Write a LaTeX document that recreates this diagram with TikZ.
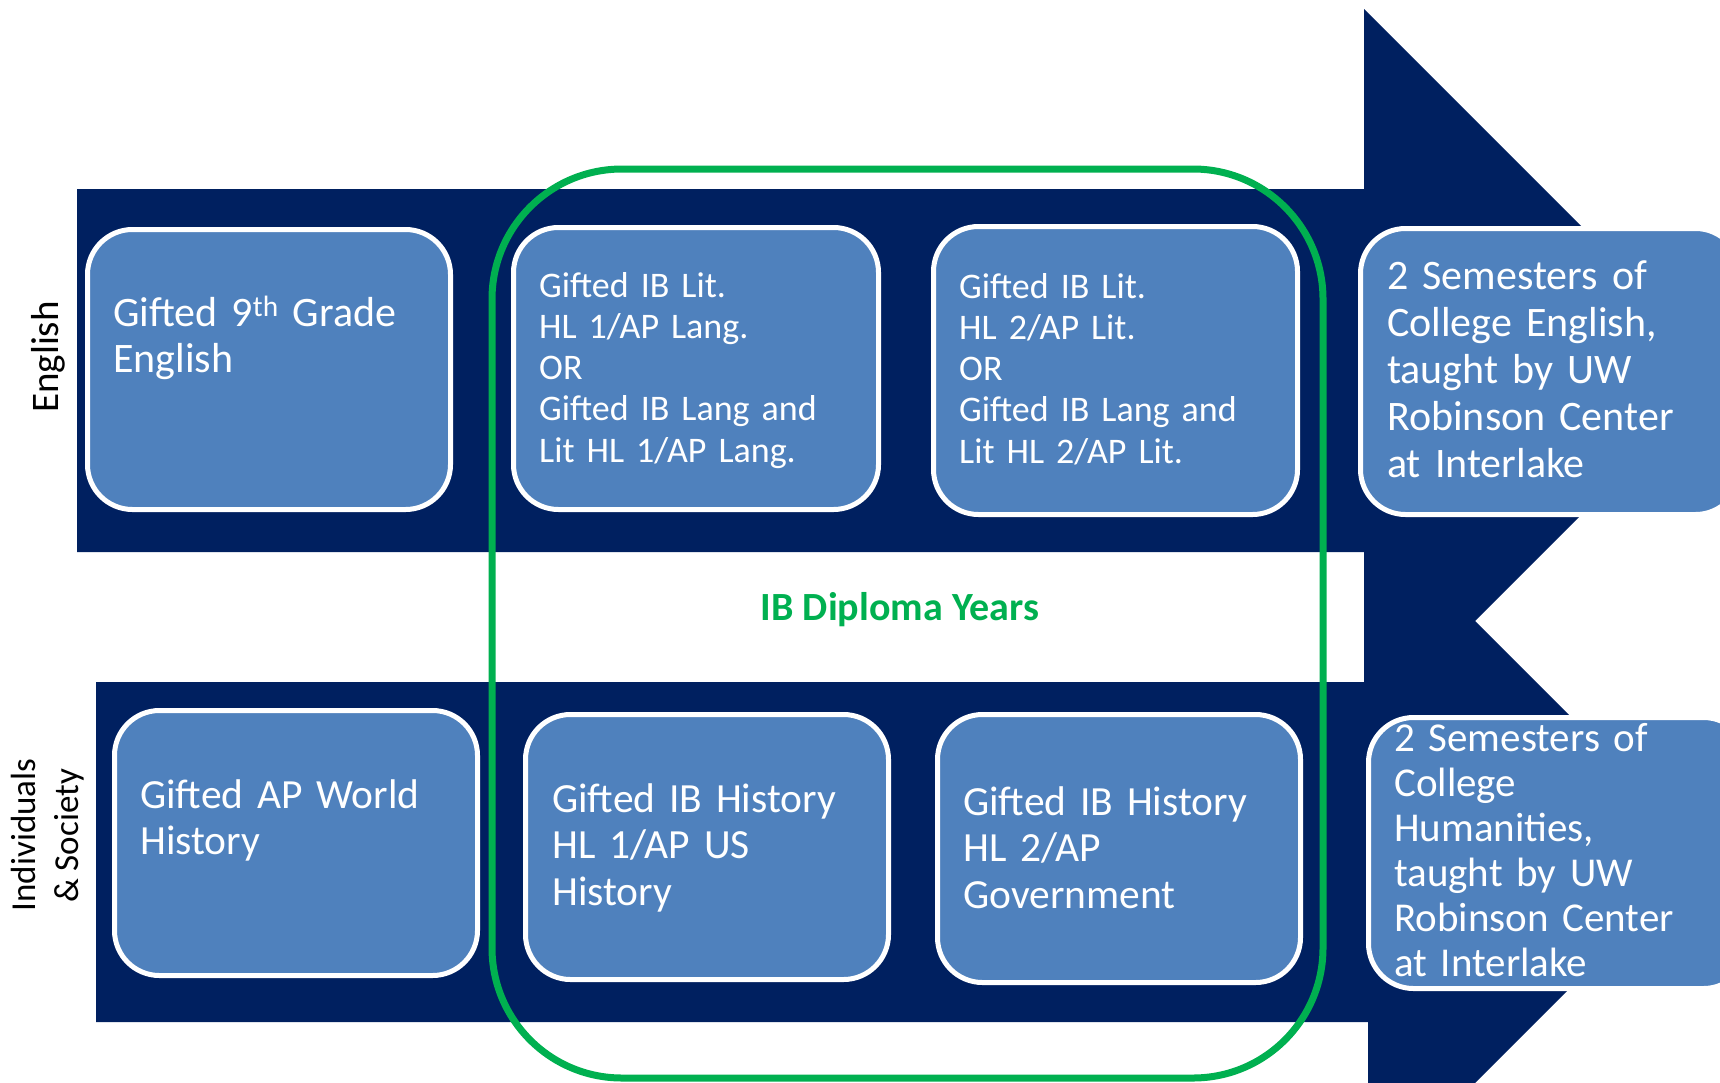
\documentclass[tikz,border=0pt]{standalone}
\usepackage{fontspec}
\setmainfont{Carlito}
\definecolor{navy}{HTML}{002060}
\definecolor{boxblue}{HTML}{4F81BD}
\definecolor{ibgreen}{HTML}{00B050}
\begin{document}
\begin{tikzpicture}[x=1pt,y=-1pt,
  box/.style={draw=white, line width=5pt, fill=boxblue, rounded corners=45pt,
    rectangle, inner sep=0pt, anchor=north west},
  txt/.style={text=white, align=left, inner sep=0pt, anchor=base west, text width=340pt},
  fa/.style={font=\fontsize{36}{41.25}\selectfont},
  fb/.style={font=\fontsize{41.5}{46.5}\selectfont},
  fe/.style={font=\fontsize{42}{46.5}\selectfont},
  fc/.style={font=\fontsize{42}{47}\selectfont},
  fd/.style={font=\fontsize{41}{45}\selectfont},
  side/.style={text=black, inner sep=0pt, rotate=90, anchor=base}]
\useasboundingbox (0,0) rectangle (1720,1082);
\clip (0,0) rectangle (1720,1082);
% arrows
\fill[navy] (77,189) -- (1364,189) -- (1364,9) -- (1725.5,370.5) -- (1364,732) -- (1364,552) -- (77,552) -- cycle;
\fill[navy] (96,682) -- (1368,682) -- (1368,514) -- (1706,852) -- (1368,1190) -- (1368,1022) -- (96,1022) -- cycle;
% boxes
\node[box, minimum width=363pt, minimum height=280pt] (b1) at (85,227) {};
\node[box, minimum width=365pt, minimum height=282pt] (b2) at (511,225) {};
\node[box, minimum width=364pt, minimum height=288pt] (b3) at (931,224) {};
\node[box, minimum width=380pt, minimum height=286pt] (b4) at (1358,226) {};
\node[box, minimum width=363pt, minimum height=265pt] (b5) at (112,708) {};
\node[box, minimum width=363pt, minimum height=265pt] (b6) at (523,712) {};
\node[box, minimum width=363pt, minimum height=268pt] (b7) at (935,712) {};
\node[box, minimum width=380pt, minimum height=271pt] (b8) at (1366,715) {};
% texts
\node[txt, fe] (t1) at (113,326) {Gifted 9\textsuperscript{th} Grade\\English};
\node[txt, fa] (t2) at (539,297) {Gifted IB Lit.\\HL 1/AP Lang.\\OR\\Gifted IB Lang and\\Lit HL 1/AP Lang.};
\node[txt, fa] (t3) at (959,298) {Gifted IB Lit.\\HL 2/AP Lit.\\OR\\Gifted IB Lang and\\Lit HL 2/AP Lit.};
\node[txt, fc] (t4) at (1387,289) {2 Semesters of\\College English,\\taught by UW\\Robinson Center\\at Interlake};
\node[txt, fb] (t5) at (140,808) {Gifted AP World\\History};
\node[txt, fb] (t6) at (552,812) {Gifted IB History\\HL 1/AP US\\History};
\node[txt, fb] (t7) at (963,815) {Gifted IB History\\HL 2/AP\\Government};
\node[txt, fd] (t8) at (1394,751) {2 Semesters of\\College\\Humanities,\\taught by UW\\Robinson Center\\at Interlake};
% side labels
\node[side, font=\fontsize{39}{39}\selectfont] (eng) at (58,357) {English};
\node[side, font=\fontsize{35}{35}\selectfont] (ind) at (35,835) {Individuals};
\node[side, font=\fontsize{35}{35}\selectfont] (soc) at (78,836) {\& Society};
% IB diploma frame
\draw[ibgreen, line width=7pt, rounded corners=130pt] (492,169) rectangle (1323,1078);
\node[text=ibgreen, font=\bfseries\fontsize{40}{40}\selectfont, inner sep=0pt, anchor=base] (ib) at (900,620) {IB Diploma Years};
\end{tikzpicture}
\end{document}
